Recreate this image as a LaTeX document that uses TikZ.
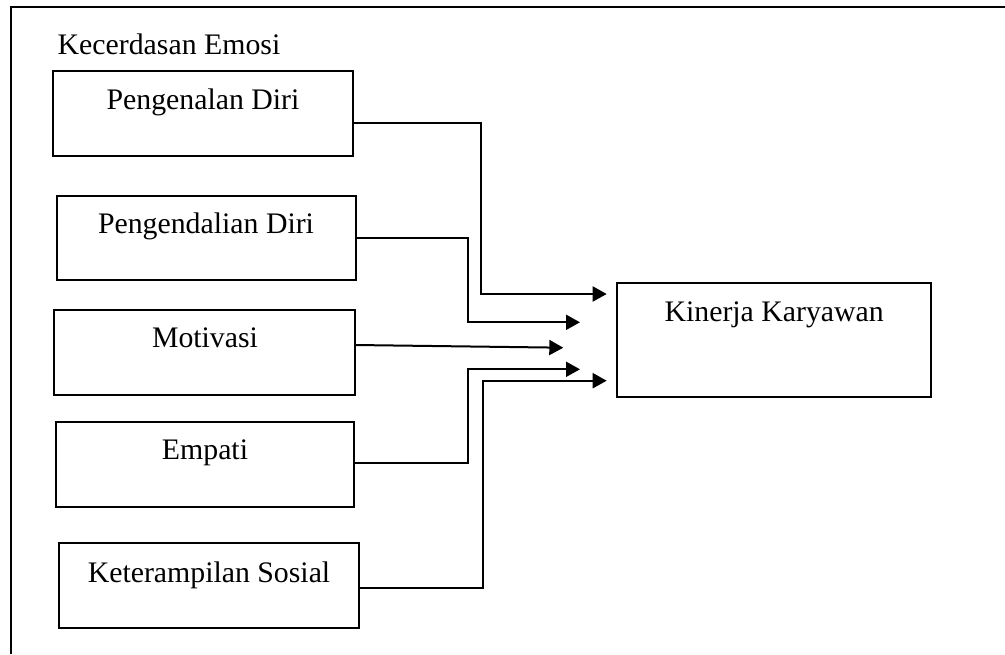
\documentclass[tikz,border=0pt]{standalone}
\usepackage{fontspec}
\setmainfont{Liberation Serif}
\usetikzlibrary{arrows.meta}
\begin{document}
\begin{tikzpicture}[x=1pt,y=-1pt,
  box/.style={draw, line width=2pt, inner sep=0pt, outer sep=0pt},
  lbl/.style={font=\fontsize{29.8}{34}\selectfont, inner sep=0pt, anchor=base},
  conn/.style={line width=2pt, -{Triangle[length=14pt,width=15pt]}}]
\useasboundingbox (0,0) rectangle (1005,654);
% outer frame (only top and left edges visible)
\draw[line width=2pt] (11,654) -- (11,7) -- (1005,7);
\node[lbl, anchor=base west] (title) at (57.5,54.5) {Kecerdasan Emosi};
% boxes
\node[box, anchor=north west, minimum width=300.6pt, minimum height=85pt] (b1) at (52.7,70.7) {};
\node[box, anchor=north west, minimum width=299.3pt, minimum height=84.6pt] (b2) at (56.7,195.7) {};
\node[box, anchor=north west, minimum width=301pt, minimum height=85pt] (b3) at (54.3,310) {};
\node[box, anchor=north west, minimum width=298.3pt, minimum height=85pt] (b4) at (55.7,421.7) {};
\node[box, anchor=north west, minimum width=300pt, minimum height=85pt] (b5) at (59,543.3) {};
\node[box, anchor=north west, minimum width=313.7pt, minimum height=113.4pt] (k) at (617.3,283.3) {};
% labels
\node[lbl] (t1) at (203,109) {Pengenalan Diri};
\node[lbl] (t2) at (206,233) {Pengendalian Diri};
\node[lbl] (t3) at (205,347.4) {Motivasi};
\node[lbl] (t4) at (205,459) {Empati};
\node[lbl] (t5) at (209,582) {Keterampilan Sosial};
\node[lbl] (tk) at (774.2,321.4) {Kinerja Karyawan};
% arrow end points
\coordinate (e1) at (606.7,294);
\coordinate (e2) at (580,322.3);
\coordinate (e3) at (563.3,347.7);
\coordinate (e4) at (580,369.3);
\coordinate (e5) at (606.7,380.7);
% connectors
\draw[conn] (b1.east |- 0,123.3) -| (481,294) -- (e1);
\draw[conn] (b2.east |- 0,237.7) -| (468.3,322.3) -- (e2);
\draw[conn] (b3.east |- 0,345) -- (e3);
\draw[conn] (b4.east |- 0,463.3) -| (468.3,369.3) -- (e4);
\draw[conn] (b5.east |- 0,587.7) -| (483.3,380.7) -- (e5);
\end{tikzpicture}
\end{document}
